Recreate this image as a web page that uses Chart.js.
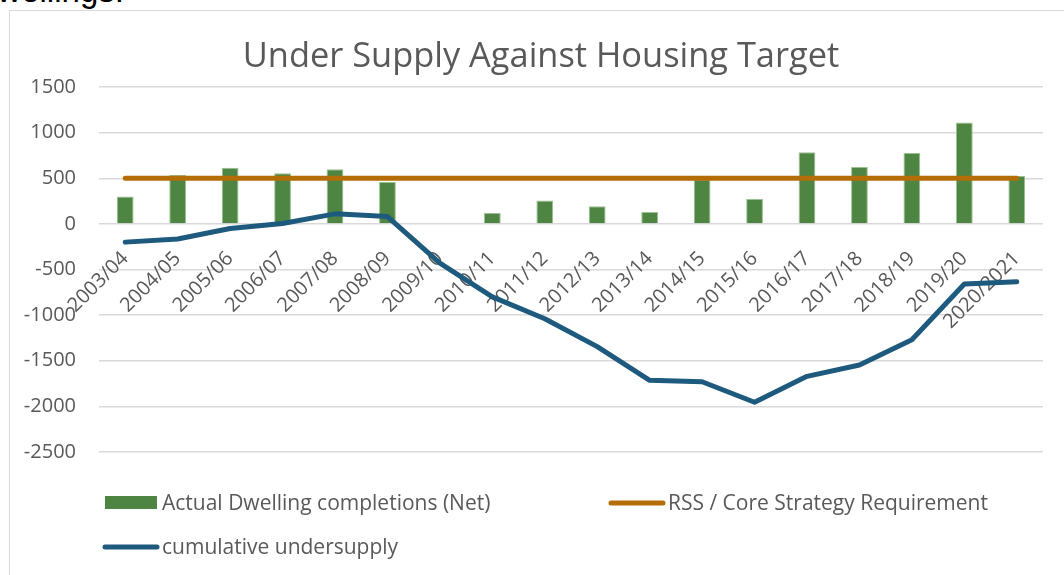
<!DOCTYPE html>
<html>
<head>
<meta charset="utf-8">
<script src="https://cdn.jsdelivr.net/npm/chart.js@4.4.0/dist/chart.umd.min.js"></script>
<style>
  html, body { margin: 0; padding: 0; background: #fff; overflow: hidden; }
  #wrap { position: relative; width: 1064px; height: 575px; overflow: hidden; }
  #frame { position: absolute; left: 9px; top: 10px; width: 1100px; height: 600px; border: 1px solid #d9d9d9; }
  #above { position: absolute; left: -21px; top: -28px; font: 33px 'Liberation Sans', Arial, sans-serif; color: #000; white-space: nowrap; }
  #canvas { position: absolute; left: 0; top: 0; }
</style>
</head>
<body>
<div id="wrap">
  <div id="above">dwellings.</div>
  <div id="frame"></div>
  <canvas id="canvas" width="1064" height="575"></canvas>
</div>
<script>
// values
var chartTitle = 'Under Supply Against Housing Target';
var years = ['2003/04', '2004/05', '2005/06', '2006/07', '2007/08', '2008/09', '2009/10', '2010/11', '2011/12',
  '2012/13', '2013/14', '2014/15', '2015/16', '2016/17', '2017/18', '2018/19', '2019/20', '2020/2021'];
var completions = [300, 535, 615, 555, 600, 460, 0, 120, 255, 193, 131, 485, 273, 784, 624, 777, 1112, 525];
var requirement = [500, 500, 500, 500, 500, 500, 500, 500, 500, 500, 500, 500, 500, 500, 500, 500, 500, 500];
var undersupply = [-200, -165, -50, 5, 110, 80, -430, -800, -1040, -1345, -1714, -1730, -1955, -1671, -1547, -1270, -658, -633];
var yTicks = [1500, 1000, 500, 0, -500, -1000, -1500, -2000, -2500];

var GREY = '#595959';
Chart.defaults.font.family = "'Open Sans', sans-serif";

// Excel style title (sits a bit right of the canvas centre) and a two column legend
var excelDecor = {
  id: 'excelDecor',
  afterDraw: function(chart) {
    var ctx = chart.ctx;
    var ds = chart.data.datasets;
    ctx.save();
    ctx.fillStyle = GREY;
    ctx.font = "34.4px 'Open Sans', sans-serif";
    ctx.textAlign = 'center';
    ctx.textBaseline = 'alphabetic';
    ctx.fillText(chartTitle, 541, 67);

    var spots = [
      { x: 105, y: 503 },  // bars
      { x: 609, y: 503 },  // requirement
      { x: 103, y: 547 }   // cumulative
    ];
    ctx.font = "21px 'Open Sans', sans-serif";
    ctx.textAlign = 'left';
    ctx.textBaseline = 'middle';
    ds.forEach(function(d, i) {
      var p = spots[i];
      var tx;
      if (d.type === 'bar') {
        ctx.fillStyle = d.backgroundColor;
        ctx.fillRect(p.x, p.y - 7, 52, 13);
        tx = p.x + 57;
      } else {
        ctx.strokeStyle = d.borderColor;
        ctx.lineWidth = 5;
        ctx.lineCap = 'round';
        ctx.beginPath();
        ctx.moveTo(p.x + 2, p.y);
        ctx.lineTo(p.x + 54, p.y);
        ctx.stroke();
        tx = p.x + 59;
      }
      ctx.fillStyle = GREY;
      ctx.fillText(d.label, tx, p.y + 1);
    });
    ctx.restore();
  }
};

var ctx = document.getElementById('canvas').getContext('2d');
window.myChart = new Chart(ctx, {
  data: {
    labels: years,
    datasets: [{
      type: 'bar',
      label: 'Actual Dwelling completions (Net)',
      data: completions,
      backgroundColor: '#4e8543',
      borderColor: '#9cc090',
      borderWidth: 1,
      categoryPercentage: 0.32,
      barPercentage: 1.0,
      order: 3
    }, {
      type: 'line',
      label: 'RSS / Core Strategy Requirement',
      data: requirement,
      borderColor: '#b56d07',
      backgroundColor: '#b56d07',
      borderWidth: 5,
      borderCapStyle: 'round',
      pointRadius: 0,
      fill: false,
      order: 1
    }, {
      type: 'line',
      label: 'cumulative undersupply',
      data: undersupply,
      borderColor: '#1e5a7d',
      backgroundColor: '#1e5a7d',
      borderWidth: 5,
      borderCapStyle: 'round',
      borderJoinStyle: 'round',
      pointRadius: 0,
      tension: 0,
      fill: false,
      order: 2
    }]
  },
  options: {
    responsive: false,
    animation: false,
    layout: { padding: { left: 0, right: 21, top: 87, bottom: 123 } },
    plugins: {
      legend: { display: false },
      tooltip: { enabled: false },
      title: { display: false }
    },
    scales: {
      x: {
        type: 'category',
        position: { y: 0 },
        grid: { display: false, drawTicks: false },
        border: { display: false },
        ticks: {
          color: GREY,
          font: { size: 20 },
          minRotation: 45,
          maxRotation: 45,
          autoSkip: false,
          padding: 23
        }
      },
      y: {
        min: -2500,
        max: 1500,
        afterFit: function(s) { s.width = 99; },
        afterBuildTicks: function(s) {
          s.ticks = yTicks.map(function(v) { return { value: v }; });
        },
        grid: { color: '#d9d9d9', lineWidth: 1.5, drawTicks: false },
        border: { display: false },
        ticks: {
          color: GREY,
          font: { size: 20 },
          padding: 23,
          callback: function(v) { return String(v); }
        }
      }
    }
  },
  plugins: [excelDecor]
});
</script>
</body>
</html>
